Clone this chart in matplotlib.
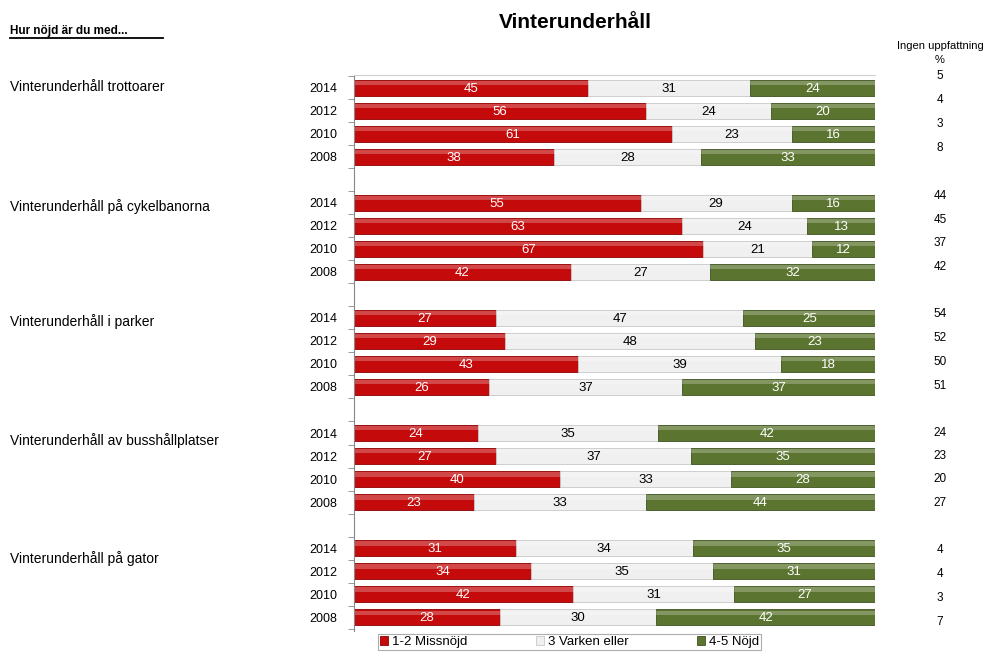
import matplotlib.pyplot as plt
import numpy as np

plt.rcParams['font.family'] = ['Liberation Sans', 'DejaVu Sans']

groups = ["Vinterunderhåll trottoarer", "Vinterunderhåll på cykelbanorna",
          "Vinterunderhåll i parker", "Vinterunderhåll av busshållplatser",
          "Vinterunderhåll på gator"]
years = ["2014", "2012", "2010", "2008"]

missnojd = [[45, 56, 61, 38], [55, 63, 67, 42], [27, 29, 43, 26], [24, 27, 40, 23], [31, 34, 42, 28]]
varken = [[31, 24, 23, 28], [29, 24, 21, 27], [47, 48, 39, 37], [35, 37, 33, 33], [34, 35, 31, 30]]
nojd = [[24, 20, 16, 33], [16, 13, 12, 32], [25, 23, 18, 37], [42, 35, 28, 44], [35, 31, 27, 42]]
ingen = [[5, 4, 3, 8], [44, 45, 37, 42], [54, 52, 50, 51], [24, 23, 20, 27], [4, 4, 3, 7]]

series_names = ["1-2 Missnöjd", "3 Varken eller", "4-5 Nöjd"]
colors = ["#C40A0A", "#F0F0F0", "#5B7530"]
edges = ["#8E0000", "#C8C8C8", "#3F5420"]
text_colors = ["white", "black", "white"]

# rader: 4 år per grupp, en tom rad mellan grupperna
rows, vals, labels = [], [], []
for g in range(len(groups)):
    for i, yr in enumerate(years):
        rows.append(g * 5 + i)
        vals.append([missnojd[g][i], varken[g][i], nojd[g][i]])
        labels.append(yr)
rows = np.array(rows)
vals = np.array(vals, dtype=float)
shares = vals / vals.sum(axis=1, keepdims=True) * 100

fig = plt.figure(figsize=(9.9, 6.53), dpi=100)
ax = fig.add_axes([354 / 990, 1 - 631 / 653, 521 / 990, 556 / 653])

left = np.zeros(len(rows))
for k in range(3):
    ax.barh(rows, shares[:, k], left=left, height=0.7, color=colors[k],
            edgecolor=edges[k], linewidth=0.6, label=series_names[k])
    # enkel glans-effekt
    ax.barh(rows - 0.2, shares[:, k], left=left, height=0.18, color="white",
            alpha=0.25, linewidth=0)
    for r, l, w, v in zip(rows, left, shares[:, k], vals[:, k]):
        ax.text(l + w / 2, r + 0.05, f"{int(v)}", ha="center", va="center",
                fontsize=9.5, color=text_colors[k])
    left += shares[:, k]

ax.set_xlim(0, 100)
ax.set_ylim(23.6, -0.55)
ax.set_yticks(rows)
ax.set_yticklabels(labels, fontsize=9)
ax.set_yticks(np.arange(-0.5, 24, 1), minor=True)
ax.tick_params(axis="y", which="major", length=0, pad=12)
ax.tick_params(axis="y", which="minor", length=4, color="#888888")
ax.set_xticks([])
for s in ["right", "bottom"]:
    ax.spines[s].set_visible(False)
ax.spines["top"].set_color("#D0D0D0")
ax.spines["left"].set_color("#888888")

fig.text(575 / 990, 1 - 22 / 653, "Vinterunderhåll", ha="center", va="center",
         fontsize=15, fontweight="bold")
fig.text(10 / 990, 1 - 31 / 653, "Hur nöjd är du med...", ha="left", va="center",
         fontsize=8.5, fontweight="bold")
fig.add_artist(plt.Line2D([10 / 990, 163 / 990], [1 - 38 / 653, 1 - 38 / 653],
                          color="black", linewidth=1.3))

group_y = [87, 207, 322, 441, 559]
for name, gy in zip(groups, group_y):
    fig.text(10 / 990, 1 - gy / 653, name, ha="left", va="center", fontsize=10)

fig.text(940 / 990, 1 - 46 / 653, "Ingen uppfattning", ha="center", va="center", fontsize=8)
fig.text(940 / 990, 1 - 60 / 653, "%", ha="center", va="center", fontsize=8)
ingen_y = [[76, 100, 124, 148], [196, 220, 243, 267], [314, 338, 362, 386],
           [433, 456, 479, 503], [550, 574, 598, 622]]
for g in range(len(groups)):
    for v, y in zip(ingen[g], ingen_y[g]):
        fig.text(940 / 990, 1 - y / 653, str(v), ha="center", va="center", fontsize=8.5)

leg = fig.legend(loc="upper left", bbox_to_anchor=(378 / 990, 1 - 634 / 653), ncol=3,
                 fontsize=9.5, frameon=True, fancybox=False, handlelength=0.6,
                 handleheight=0.6, columnspacing=5.2, handletextpad=0.3,
                 borderpad=0.15, borderaxespad=0, edgecolor="#999999")
leg.get_frame().set_linewidth(0.8)

fig.savefig("out.png", dpi=100)
